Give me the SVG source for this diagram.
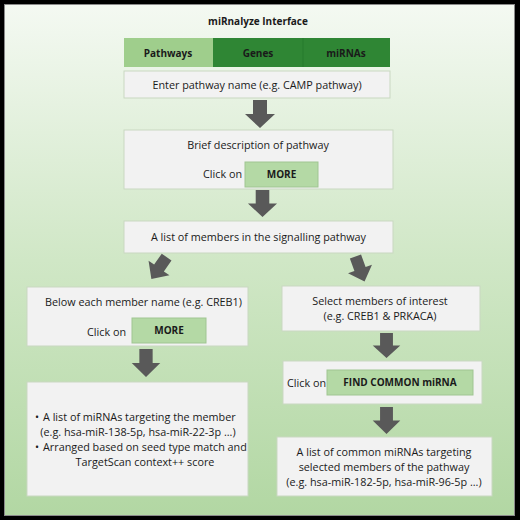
<svg xmlns="http://www.w3.org/2000/svg" width="520" height="520" viewBox="0 0 520 520">
<defs>
<linearGradient id="bg" x1="0" y1="0" x2="0" y2="1">
<stop offset="0" stop-color="#f4f9f2"/>
<stop offset="0.5" stop-color="#d0e7c6"/>
<stop offset="1" stop-color="#b2d7a3"/>
</linearGradient>
<path id="arr" d="M-7,-14 H7 V0 H15 L0,14 L-15,0 H-7 Z"/>
</defs>
<style>
.box{fill:#f2f2f2;stroke:#c9d8c1;stroke-width:1}
.btn{fill:#b4d9a5;stroke:#a0c592;stroke-width:1}
.t{font-family:"Open Sans","Noto Sans",sans-serif;font-size:10.8px;fill:#1a1a1a}
.b{font-family:"Open Sans","Noto Sans",sans-serif;font-size:10px;font-weight:bold;fill:#1a1a1a}
.c{text-anchor:middle}
.a{fill:#595959}
</style>
<rect x="0" y="0" width="520" height="520" fill="#000"/>
<rect x="4.5" y="4.5" width="510" height="511" fill="url(#bg)" stroke="#8a8a8a" stroke-width="1"/>
<text class="b c" x="258" y="25">miRnalyze Interface</text>

<g id="tabs">
<rect x="124" y="38" width="89" height="29" fill="#9fce8c"/>
<rect x="213" y="38" width="90" height="29" fill="#2f8634"/>
<rect x="303" y="38" width="87" height="29" fill="#2f8634"/>
<line x1="303" y1="38" x2="303" y2="67" stroke="#277a2c" stroke-width="1"/>
<text class="b c" x="168" y="57">Pathways</text>
<text class="b c" x="258" y="57">Genes</text>
<text class="b c" x="346" y="57">miRNAs</text>
</g>

<g id="enter">
<rect class="box" x="124" y="71" width="266" height="27"/>
<text class="t c" x="257" y="88.5">Enter pathway name (e.g. CAMP pathway)</text>
</g>

<g id="brief">
<rect class="box" x="124" y="130" width="269" height="59"/>
<text class="t c" x="258" y="148.5">Brief description of pathway</text>
<text class="t" x="203" y="178">Click on</text>
<rect class="btn" x="245" y="162" width="73" height="25"/>
<text class="b c" x="281.5" y="178">MORE</text>
</g>

<g id="list">
<rect class="box" x="124" y="221" width="269" height="32"/>
<text class="t c" x="258.5" y="241">A list of members in the signalling pathway</text>
</g>

<g id="below">
<rect class="box" x="27" y="287" width="221" height="59"/>
<text class="t c" x="143.5" y="306">Below each member name (e.g. CREB1)</text>
<text class="t" x="87" y="336">Click on</text>
<rect class="btn" x="132" y="318" width="74" height="25"/>
<text class="b c" x="169" y="334">MORE</text>
</g>

<g id="select">
<rect class="box" x="282" y="286" width="198" height="45"/>
<text class="t c" x="380" y="305">Select members of interest</text>
<text class="t c" x="380" y="320">(e.g. CREB1 &amp; PRKACA)</text>
</g>

<g id="find">
<rect class="box" x="283" y="361" width="199" height="43"/>
<text class="t" x="287" y="387">Click on</text>
<rect class="btn" x="327" y="370" width="146" height="25"/>
<text class="b c" x="400" y="386">FIND COMMON miRNA</text>
</g>

<g id="mirnas">
<rect class="box" x="27" y="382" width="221" height="114"/>
<text class="t" x="35" y="421">•</text>
<text class="t" x="43" y="421">A list of miRNAs targeting the member</text>
<text class="t c" x="138" y="436">(e.g. hsa-miR-138-5p, hsa-miR-22-3p ...)</text>
<text class="t" x="35" y="451">•</text>
<text class="t" x="43" y="451">Arranged based on seed type match and</text>
<text class="t c" x="145" y="466">TargetScan context++ score</text>
</g>

<g id="common">
<rect class="box" x="277" y="437" width="215" height="59"/>
<text class="t c" x="384" y="456">A list of common miRNAs targeting</text>
<text class="t c" x="384" y="471">selected members of the pathway</text>
<text class="t c" x="384" y="486">(e.g. hsa-miR-182-5p, hsa-miR-96-5p ...)</text>
</g>

<g id="connectors">
<use href="#arr" class="a" transform="translate(260,114)"/>
<use href="#arr" class="a" transform="translate(262.5,203.5) scale(0.97,0.96)"/>
<use href="#arr" class="a" transform="translate(159,268) rotate(35) scale(0.85,0.95)"/>
<use href="#arr" class="a" transform="translate(360,269) rotate(-20) scale(0.85,0.95)"/>
<use href="#arr" class="a" transform="translate(146,363) scale(0.95,1)"/>
<use href="#arr" class="a" transform="translate(386.5,345.5) scale(0.92,0.9)"/>
<use href="#arr" class="a" transform="translate(386.5,420.5) scale(0.92,0.96)"/>
</g>
</svg>
